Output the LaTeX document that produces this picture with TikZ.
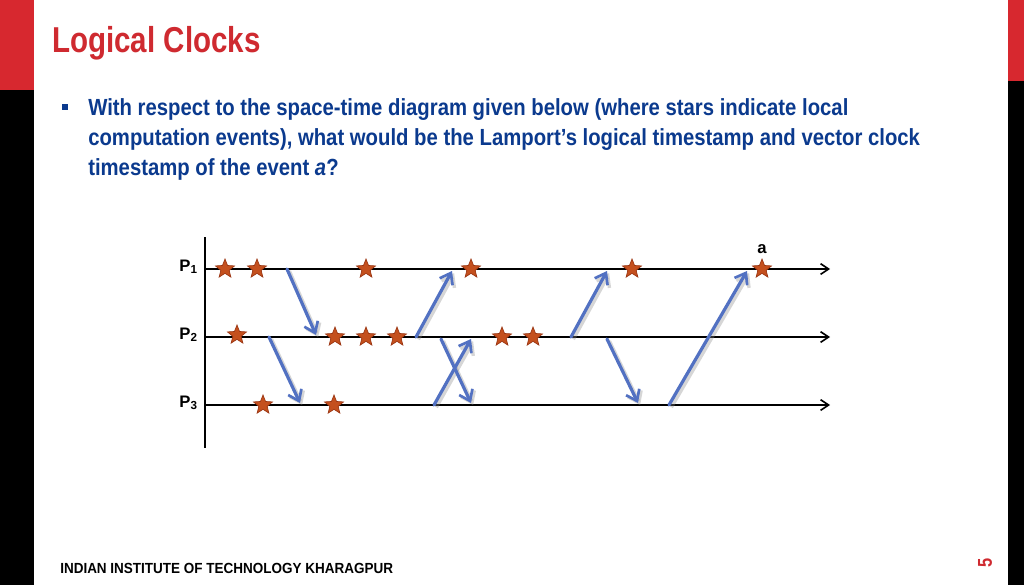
\documentclass[tikz,border=0pt]{standalone}
\usepackage{fontspec}
\setmainfont{Liberation Sans}[FakeStretch=0.82]
\newfontfamily\plainsans{Liberation Sans}
\newfontfamily\bodysans{Liberation Sans}[FakeStretch=0.87]
\newfontfamily\footsans{Liberation Sans}[FakeStretch=0.92]
\usetikzlibrary{arrows.meta,shapes.geometric}
\definecolor{barred}{HTML}{D7282F}
\definecolor{titlered}{HTML}{CF2A30}
\definecolor{textblue}{HTML}{0B3A8E}
\definecolor{msgblue}{HTML}{5271C2}
\definecolor{starfill}{HTML}{C4501E}
\definecolor{stardraw}{HTML}{9A3512}
\tikzset{
  timeline/.style={line width=1.5pt, -{Straight Barb[length=6pt,width=8pt,line width=1.2pt]}},
  axisline/.style={line width=1.5pt},
  msg/.style={draw=msgblue, line width=2.4pt, line cap=round, -{Straight Barb[length=7.5pt,width=11pt,line width=2pt]}},
  msgshadow/.style={draw=black!45, opacity=0.35, line width=3pt, -{Straight Barb[length=7.5pt,width=11pt,line width=2.5pt]}},
  evstar/.style={star, star points=5, star point ratio=2.3, fill=starfill, draw=stardraw, line width=0.5pt, minimum size=15pt, inner sep=0pt},
  plabel/.style={font=\plainsans\bfseries\fontsize{12.5pt}{14pt}\selectfont, anchor=base east, inner sep=0pt},
}
\begin{document}
\begin{tikzpicture}[x=0.75pt,y=-0.75pt]
\useasboundingbox (0,0) rectangle (1024,585);
\fill[white] (0,0) rectangle (1024,585);
% side bars
\fill[barred] (0,0) rectangle (34,90);
\fill[black] (0,90) rectangle (34,585);
\fill[barred] (1008,0) rectangle (1024,81);
\fill[black] (1008,81) rectangle (1024,585);
% title
\node[anchor=base west, inner sep=0pt, text=titlered, font=\bfseries\fontsize{27pt}{30pt}\selectfont] (title) at (52,53) {Logical Clocks};
% bullet
\fill[textblue] (62,104) rectangle (68,110);
\begin{scope}[every node/.style={anchor=base west, inner sep=0pt, text=textblue, font=\bodysans\bfseries\fontsize{17.5pt}{21pt}\selectfont}]
\node (l1) at (88,115.5) {With respect to the space-time diagram given below (where stars indicate local};
\node (l2) at (88,145.5) {computation events), what would be the Lamport’s logical timestamp and vector clock};
\node (l3) at (88,175.5) {timestamp of the event \textit{a}?};
\end{scope}
% footer
\node[anchor=base west, inner sep=0pt, font=\footsans\bfseries\fontsize{11pt}{12pt}\selectfont] (footer) at (60,573) {INDIAN INSTITUTE OF TECHNOLOGY KHARAGPUR};
\node[rotate=90, inner sep=0pt, text=titlered, font=\bfseries\fontsize{15pt}{16pt}\selectfont] (pagenum) at (985,563) {5};
% axes
\coordinate (axtop) at (205,237);
\coordinate (axbot) at (205,448);
\draw[axisline] (axtop) -- (axbot);
\coordinate (p1s) at (205,269); \coordinate (p1e) at (830,269);
\coordinate (p2s) at (205,337); \coordinate (p2e) at (830,337);
\coordinate (p3s) at (205,405); \coordinate (p3e) at (830,405);
\draw[timeline] (p1s) -- (p1e);
\draw[timeline] (p2s) -- (p2e);
\draw[timeline] (p3s) -- (p3e);
\node[plabel] (lab1) at (198,271) {P\textsubscript{1}};
\node[plabel] (lab2) at (198,339) {P\textsubscript{2}};
\node[plabel] (lab3) at (198,407) {P\textsubscript{3}};
\node[font=\plainsans\bfseries\fontsize{12.5pt}{14pt}\selectfont, anchor=base, inner sep=0pt] (alab) at (762,253) {a};
% message endpoints
\coordinate (m1a) at (287,269); \coordinate (m1b) at (316,335);
\coordinate (m2a) at (269,337); \coordinate (m2b) at (300,403);
\coordinate (m3a) at (416,337); \coordinate (m3b) at (452,271);
\coordinate (m4a) at (441,339); \coordinate (m4b) at (471,403);
\coordinate (m5a) at (434,405); \coordinate (m5b) at (471,339);
\coordinate (m6a) at (571,337); \coordinate (m6b) at (607,271);
\coordinate (m7a) at (607,339); \coordinate (m7b) at (638,403);
\coordinate (m8a) at (669,405); \coordinate (m8b) at (747,271);
\foreach \m in {1,...,8}{
  \draw[msgshadow, transform canvas={xshift=1.6pt,yshift=-1.6pt}] (m\m a) -- (m\m b);
}
\foreach \m in {1,...,8}{
  \draw[msg] (m\m a) -- (m\m b);
}
% stars
\node[evstar] (e11) at (225,269) {};
\node[evstar] (e12) at (257,269) {};
\node[evstar] (e13) at (366,269) {};
\node[evstar] (e14) at (471,269) {};
\node[evstar] (e15) at (632,269) {};
\node[evstar] (e16) at (762,269) {};
\node[evstar] (e21) at (237,335) {};
\node[evstar] (e22) at (335,337) {};
\node[evstar] (e23) at (366,337) {};
\node[evstar] (e24) at (397,337) {};
\node[evstar] (e25) at (502,337) {};
\node[evstar] (e26) at (533,337) {};
\node[evstar] (e31) at (263,405) {};
\node[evstar] (e32) at (334,405) {};
\end{tikzpicture}
\end{document}
